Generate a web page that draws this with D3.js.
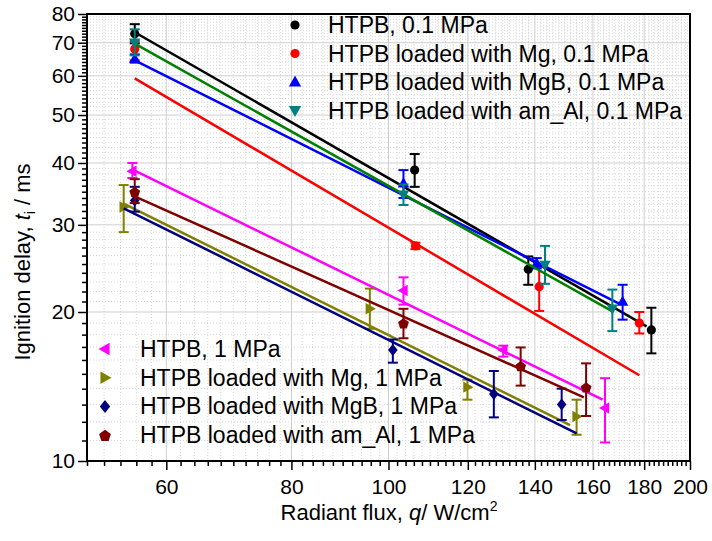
<!DOCTYPE html>
<html>
<head>
<meta charset="utf-8">
<script src="https://cdn.jsdelivr.net/npm/d3@7"></script>
<style>
  body { margin: 0; background: #fff; }
  svg { font-family: "Liberation Sans", Arial, sans-serif; }
</style>
</head>
<body>
<svg width="712" height="541"></svg>
<script>
// data (log-log plot)
var names = [
  "HTPB, 0.1 MPa",
  "HTPB loaded with Mg, 0.1 MPa",
  "HTPB loaded with MgB, 0.1 MPa",
  "HTPB loaded with am_Al, 0.1 MPa",
  "HTPB, 1 MPa",
  "HTPB loaded with Mg, 1 MPa",
  "HTPB loaded with MgB, 1 MPa",
  "HTPB loaded with am_Al, 1 MPa"
];
// radiant flux q, W/cm2
var flux = [
  [55.8, 106.2, 137.9, 183],
  [55.8, 106.4, 141.4, 178],
  [55.8, 103.5, 140.6, 171.3],
  [55.8, 103.5, 143.3, 167.3],
  [55.5, 103.5, 130.2, 164.5],
  [54.4, 95.8, 119.9, 154.1],
  [55.8, 101, 127.4, 148.9],
  [55.8, 103.5, 135.5, 157.5]
];
// ignition delay t_i, ms
var delay = [
  [73, 38.7, 24.4, 18.4],
  [68, 27.2, 22.5, 19.0],
  [65, 36.4, 25.1, 21.0],
  [70, 34.5, 24.9, 20.3],
  [38.5, 22.1, 16.75, 12.8],
  [32.6, 20.3, 14.1, 12.3],
  [33.6, 16.75, 13.66, 13.0],
  [35.0, 19.0, 15.56, 14.1]
];
var errLow = [
  [69.8, 35.8, 22.7, 16.5],
  [64.5, 26.8, 20.1, 18.1],
  [63.8, 34.0, 24.5, 19.3],
  [66, 32.9, 22.8, 18.3],
  [37.3, 20.7, 16.25, 10.9],
  [29.0, 18.5, 13.3, 11.3],
  [31.9, 15.8, 12.25, 12.1],
  [33.2, 17.7, 14.2, 12.33]
];
var errHigh = [
  [76.3, 41.7, 25.9, 20.4],
  [70.5, 27.6, 24.7, 20.0],
  [66.3, 38.7, 25.7, 22.7],
  [74.5, 36.2, 27.2, 22.2],
  [40.0, 23.5, 17.1, 14.7],
  [36.1, 22.3, 14.6, 13.3],
  [35.8, 17.6, 15.2, 14.0],
  [37.1, 20.3, 16.96, 15.75]
];
// power-law fit lines: [q start, t start, q end, t end]
var fits = [
  [55.8, 73.5, 181, 18.7],
  [55.8, 59.3, 178, 14.9],
  [55.8, 64.5, 170.3, 20.75],
  [55.8, 69.7, 167, 20.1],
  [55.8, 38.6, 163.6, 13.3],
  [54.4, 33.1, 151.8, 11.82],
  [54.4, 32.4, 154.1, 11.37],
  [55.5, 34.4, 156.7, 13.45]
];
var xTicks = [60, 80, 100, 120, 140, 160, 180, 200];
var yTicks = [10, 20, 30, 40, 50, 60, 70, 80];

// styles
var markerColors = ["#000000", "#ff0000", "#0000ff", "#008080", "#ff00ff", "#808000", "#000080", "#800000"];
var lineColors   = ["#000000", "#ff0000", "#0000ff", "#008000", "#ff00ff", "#808000", "#000080", "#800000"];
var shapes = ["circle", "circle", "up", "down", "left", "right", "diamond", "pentagon"];

var svg = d3.select("svg");
var pL = 87, pR = 690, pT = 14, pB = 461;

var x = d3.scaleLog().domain([50, 200]).range([pL, pR]);
var y = d3.scaleLog().domain([10, 80]).range([pB, pT]);

var xMinor = d3.range(50, 201, 2).filter(function(d) { return xTicks.indexOf(d) < 0; });
var yMinor = d3.range(10, 81, 1).filter(function(d) { return yTicks.indexOf(d) < 0; });

// grid
var grid = svg.append("g");
grid.selectAll(".vminor").data(xMinor).enter().append("line")
    .attr("x1", function(d) { return x(d); }).attr("x2", function(d) { return x(d); })
    .attr("y1", pT).attr("y2", pB)
    .attr("stroke", "#d8d8d8").attr("stroke-width", 1).attr("stroke-dasharray", "1,2");
grid.selectAll(".hminor").data(yMinor).enter().append("line")
    .attr("y1", function(d) { return y(d); }).attr("y2", function(d) { return y(d); })
    .attr("x1", pL).attr("x2", pR)
    .attr("stroke", "#d8d8d8").attr("stroke-width", 1).attr("stroke-dasharray", "1,2");
grid.selectAll(".vmajor").data(xTicks).enter().append("line")
    .attr("x1", function(d) { return x(d); }).attr("x2", function(d) { return x(d); })
    .attr("y1", pT).attr("y2", pB)
    .attr("stroke", "#cfcfcf").attr("stroke-width", 1);
grid.selectAll(".hmajor").data(yTicks).enter().append("line")
    .attr("y1", function(d) { return y(d); }).attr("y2", function(d) { return y(d); })
    .attr("x1", pL).attr("x2", pR)
    .attr("stroke", "#cfcfcf").attr("stroke-width", 1);

// axes
function styleAxis(g) {
  g.select(".domain").remove();
  g.selectAll(".tick line").attr("stroke", "#000").attr("stroke-width", 1.5);
  g.selectAll("text").attr("font-size", 21).attr("fill", "#000")
    .attr("font-family", "Liberation Sans, Arial, sans-serif");
}
svg.append("g").attr("transform", "translate(0," + pB + ")")
    .call(d3.axisBottom(x).tickValues(xMinor).tickSize(5).tickFormat(""))
    .call(styleAxis);
svg.append("g").attr("transform", "translate(0," + pB + ")")
    .call(d3.axisBottom(x).tickValues(xTicks).tickSize(9).tickPadding(9).tickFormat(d3.format("d")))
    .call(styleAxis);
svg.append("g").attr("transform", "translate(" + pL + ",0)")
    .call(d3.axisLeft(y).tickValues(yMinor).tickSize(5).tickFormat(""))
    .call(styleAxis);
svg.append("g").attr("transform", "translate(" + pL + ",0)")
    .call(d3.axisLeft(y).tickValues(yTicks).tickSize(9).tickPadding(3).tickFormat(d3.format("d")))
    .call(styleAxis);

// frame
svg.append("rect").attr("x", pL).attr("y", pT)
    .attr("width", pR - pL).attr("height", pB - pT)
    .attr("fill", "none").attr("stroke", "#000").attr("stroke-width", 2);

// marker shapes
function markerPath(shape, r) {
  switch (shape) {
    case "circle": return d3.symbol().type(d3.symbolCircle).size(Math.PI * 4.6 * 4.6)();
    case "up": return "M0," + (-r) + "L" + (r * 0.95) + "," + (r * 0.7) + "L" + (-r * 0.95) + "," + (r * 0.7) + "Z";
    case "down": return "M0," + r + "L" + (r * 0.95) + "," + (-r * 0.7) + "L" + (-r * 0.95) + "," + (-r * 0.7) + "Z";
    case "left": return "M" + (-r) + ",0L" + (r * 0.7) + "," + (-r * 0.95) + "L" + (r * 0.7) + "," + (r * 0.95) + "Z";
    case "right": return "M" + r + ",0L" + (-r * 0.7) + "," + (-r * 0.95) + "L" + (-r * 0.7) + "," + (r * 0.95) + "Z";
    case "diamond": return "M0," + (-r) + "L" + (r * 0.8) + ",0L0," + r + "L" + (-r * 0.8) + ",0Z";
    case "pentagon":
      var pts = d3.range(5).map(function(i) {
        var a = -Math.PI / 2 + i * 2 * Math.PI / 5;
        return [r * 0.95 * Math.cos(a), r * 0.95 * Math.sin(a) + 0.8];
      });
      return "M" + pts.join("L") + "Z";
  }
}

var plot = svg.append("g");
names.forEach(function(name, i) {
  var col = markerColors[i];
  var pts = flux[i].map(function(q, j) {
    return { q: q, t: delay[i][j], lo: errLow[i][j], hi: errHigh[i][j] };
  });
  var g = plot.append("g");
  // error bars
  pts.forEach(function(p) {
    var px = x(p.q);
    g.append("line").attr("x1", px).attr("x2", px).attr("y1", y(p.lo)).attr("y2", y(p.hi))
      .attr("stroke", col).attr("stroke-width", 2);
    [p.lo, p.hi].forEach(function(v) {
      g.append("line").attr("x1", px - 5).attr("x2", px + 5).attr("y1", y(v)).attr("y2", y(v))
        .attr("stroke", col).attr("stroke-width", 2);
    });
  });
  // fit line
  var f = fits[i];
  g.append("line").attr("x1", x(f[0])).attr("y1", y(f[1])).attr("x2", x(f[2])).attr("y2", y(f[3]))
    .attr("stroke", lineColors[i]).attr("stroke-width", 2.5);
  // markers
  g.selectAll("path.m").data(pts).enter().append("path")
    .attr("d", markerPath(shapes[i], 6))
    .attr("transform", function(p) { return "translate(" + x(p.q) + "," + y(p.t) + ")"; })
    .attr("fill", col);
});

// legends
var legTop = { mx: 295, tx: 328, y0: 25, dy: 28.5 };
var legBot = { mx: 105, tx: 140, y0: 349, dy: 28.7 };
names.forEach(function(name, i) {
  var L = i < 4 ? legTop : legBot;
  var k = i % 4;
  var cy = L.y0 + k * L.dy;
  svg.append("path").attr("d", markerPath(shapes[i], 6.5))
    .attr("transform", "translate(" + L.mx + "," + cy + ")")
    .attr("fill", markerColors[i]);
  svg.append("text").attr("x", L.tx).attr("y", cy + 8)
    .attr("font-size", 23).attr("fill", "#000").text(name);
});

// axis titles
var yt = svg.append("text").attr("transform", "translate(30,262) rotate(-90)")
    .attr("text-anchor", "middle").attr("font-size", 22);
yt.append("tspan").text("Ignition delay, ");
yt.append("tspan").attr("font-style", "italic").text("t");
yt.append("tspan").attr("font-size", 14).attr("dy", 5).text("i");
yt.append("tspan").attr("dy", -5).text(" / ms");

var xt = svg.append("text").attr("x", 389).attr("y", 520)
    .attr("text-anchor", "middle").attr("font-size", 22);
xt.append("tspan").text("Radiant flux, ");
xt.append("tspan").attr("font-style", "italic").text("q");
xt.append("tspan").text("/ W/cm");
xt.append("tspan").attr("font-size", 14).attr("dy", -9).text("2");
</script>
</body>
</html>
